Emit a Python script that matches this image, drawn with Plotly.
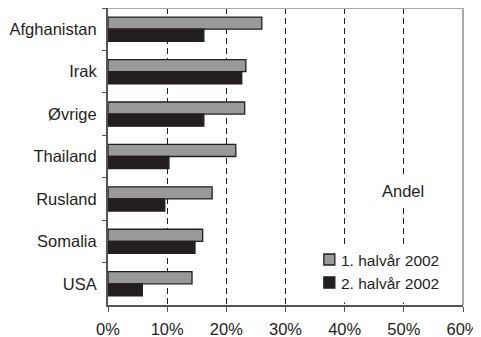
import plotly.graph_objects as go

categories = ["Afghanistan", "Irak", "Øvrige", "Thailand", "Rusland", "Somalia", "USA"]
h1_2002 = [0.26, 0.233, 0.231, 0.216, 0.176, 0.16, 0.142]
h2_2002 = [0.162, 0.226, 0.162, 0.103, 0.096, 0.147, 0.058]
series_names = ["1. halvår 2002", "2. halvår 2002"]
series_colors = ["#999999", "#231f20"]
x_ticks = [0, 0.1, 0.2, 0.3, 0.4, 0.5, 0.6]
x_tick_labels = ["0%", "10%", "20%", "30%", "40%", "50%", "60%"]

font = "Liberation Sans, Arial, sans-serif"
edge = "#231f20"

fig = go.Figure()
for vals, name, col in zip([h1_2002, h2_2002], series_names, series_colors):
    fig.add_trace(go.Bar(y=categories, x=vals, orientation="h", name=name,
                         marker=dict(color=col, line=dict(color=edge, width=1.3))))

# manual legend (white box, small squares + text)
legend_shapes = [dict(type="rect", xref="paper", yref="paper",
                      x0=0.59, x1=0.96, y0=0.008, y1=0.192,
                      fillcolor="white", line=dict(width=0))]
legend_annots = []
sq_y = [(0.1717, 0.1347), (0.0943, 0.0572)]
txt_y = [0.1515, 0.074]
for (y1, y0), ty, name, col in zip(sq_y, txt_y, series_names, series_colors):
    legend_shapes.append(dict(type="rect", xref="paper", yref="paper",
                              x0=0.608, x1=0.639, y0=y0, y1=y1,
                              fillcolor=col, line=dict(color=edge, width=1.3)))
    legend_annots.append(dict(text=name, x=0.651, y=ty, xref="paper", yref="paper",
                              showarrow=False, xanchor="left", yanchor="middle",
                              font=dict(size=15.5)))

# the page body has an 8px default margin, so the figure is offset by 8px
fig.update_layout(
    width=473, height=329,
    margin=dict(l=100, r=18, t=0, b=32),
    barmode="group", bargap=0.43, bargroupgap=0,
    plot_bgcolor="white", paper_bgcolor="white",
    font=dict(family=font, size=16.5, color="#231f20"),
    showlegend=False,
    xaxis=dict(range=[0, 0.6], tickvals=x_ticks, ticktext=x_tick_labels,
               showgrid=True, gridcolor="#231f20", griddash="6px,4px", gridwidth=1,
               showline=True, linecolor="#555555", linewidth=2,
               ticks="outside", ticklen=5, tickcolor="#555555", ticklabelstandoff=3,
               zeroline=False, automargin=False),
    yaxis=dict(categoryorder="array", categoryarray=categories, autorange="reversed",
               showline=True, linecolor="#555555", linewidth=2,
               ticks="outside", ticklen=4, tickcolor="#555555", tickson="boundaries",
               showgrid=False, ticklabelstandoff=6, automargin=False),
    shapes=[
        dict(type="line", xref="paper", yref="paper", x0=0, x1=1, y0=1, y1=1,
             line=dict(color="#aaaaaa", width=2)),
        dict(type="line", xref="paper", yref="paper", x0=1, x1=1, y0=0, y1=1,
             line=dict(color="#aaaaaa", width=2)),
    ] + legend_shapes,
    annotations=[dict(text="Andel", x=0.831, y=0.384, xref="paper", yref="paper",
                      showarrow=False, xanchor="center", yanchor="middle",
                      bgcolor="white", borderpad=4)] + legend_annots,
)

fig.write_html("out.html")
